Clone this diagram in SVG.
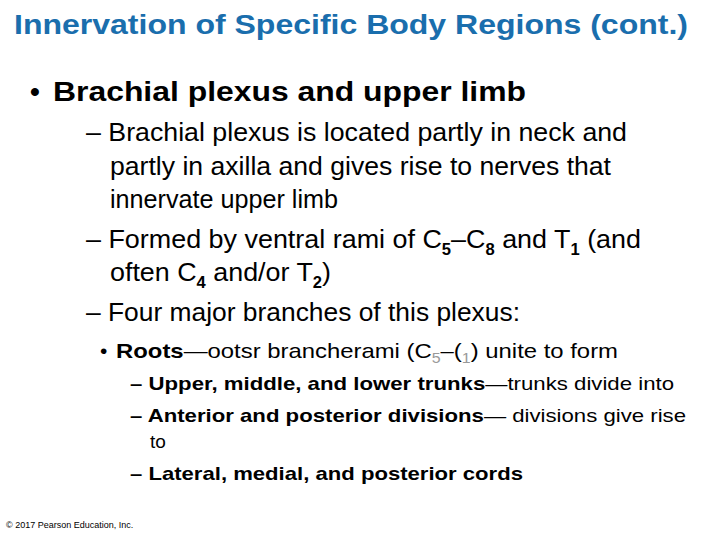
<svg xmlns="http://www.w3.org/2000/svg" width="720" height="540" viewBox="0 0 720 540">
<style>
text{font-family:"Liberation Sans",Arial,sans-serif;fill:#000}
.t{fill:#1a6ead;font-size:28px;font-weight:bold}
.l1{font-size:28px;font-weight:bold}
.l2{font-size:26px}
.l3{font-size:21px}
.l4{font-size:19px}
.b{font-weight:bold}
.g{fill:#999}
</style>
<rect width="720" height="540" fill="#fff"/>
<text class="t" x="14" y="34" textLength="674" lengthAdjust="spacingAndGlyphs">Innervation of Specific Body Regions (cont.)</text>
<text class="l1" x="30" y="101">•</text>
<text class="l1" x="53" y="101" textLength="473" lengthAdjust="spacingAndGlyphs">Brachial plexus and upper limb</text>
<text class="l2" x="86" y="141" textLength="541" lengthAdjust="spacingAndGlyphs">– Brachial plexus is located partly in neck and</text>
<text class="l2" x="110" y="175" textLength="501" lengthAdjust="spacingAndGlyphs">partly in axilla and gives rise to nerves that</text>
<text class="l2" x="110" y="208" textLength="228" lengthAdjust="spacingAndGlyphs">innervate upper limb</text>
<text class="l2" x="86" y="248" font-size="27.5" textLength="555" lengthAdjust="spacingAndGlyphs">– Formed by ventral rami of C<tspan class="b" font-size="16" dy="7">5</tspan><tspan dy="-7">–C</tspan><tspan class="b" font-size="16" dy="7">8</tspan><tspan dy="-7"> and T</tspan><tspan class="b" font-size="16" dy="7">1</tspan><tspan dy="-7"> (and</tspan></text>
<text class="l2" x="110" y="281" font-size="27.5" textLength="221" lengthAdjust="spacingAndGlyphs">often C<tspan class="b" font-size="16" dy="7">4</tspan><tspan dy="-7"> and/or T</tspan><tspan class="b" font-size="16" dy="7">2</tspan><tspan dy="-7">)</tspan></text>
<text class="l2" x="86" y="321" textLength="434" lengthAdjust="spacingAndGlyphs">– Four major branches of this plexus:</text>
<text class="l3" x="100" y="358">•</text>
<text class="l3" x="116" y="358" font-size="22" textLength="502" lengthAdjust="spacingAndGlyphs"><tspan class="b">Roots</tspan>—ootsr brancherami (C<tspan class="g" font-size="14" dy="5">5</tspan><tspan dy="-5">–(</tspan><tspan class="g" font-size="14" dy="5">1</tspan><tspan dy="-5">) unite to form</tspan></text>
<text class="l4" x="130" y="390" font-size="20" textLength="544" lengthAdjust="spacingAndGlyphs"><tspan class="b">– Upper, middle, and lower trunks</tspan>—trunks divide into</text>
<text class="l4" x="130" y="422" font-size="20" textLength="556" lengthAdjust="spacingAndGlyphs"><tspan class="b">– Anterior and posterior divisions</tspan>— divisions give rise</text>
<text class="l4" x="150" y="448" font-size="20">to</text>
<text class="l4" x="130" y="480" font-weight="bold" textLength="393" lengthAdjust="spacingAndGlyphs">– Lateral, medial, and posterior cords</text>
<text x="6" y="528" font-size="9">© 2017 Pearson Education, Inc.</text>
</svg>
